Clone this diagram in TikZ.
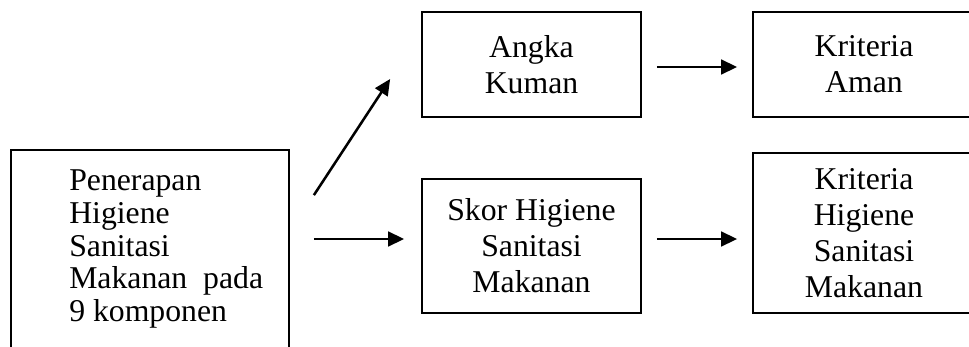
\documentclass[tikz,border=0pt]{standalone}
\usepackage{fontspec}
\setmainfont{Liberation Serif}
\usetikzlibrary{arrows.meta,calc}
\begin{document}
\begin{tikzpicture}[x=0.75pt,y=-0.75pt,
  box/.style={draw=black,line width=1.3pt,rectangle,inner sep=0pt,
    align=center,font=\fontsize{23.8pt}{27pt}\selectfont},
  lbl/.style={inner sep=0pt,align=left,font=\fontsize{23.8pt}{24.5pt}\selectfont},
  arr/.style={line width=1.9pt,-{Triangle[length=12pt,width=11pt]}}]
\useasboundingbox (0,0) rectangle (969,346);
\clip (0,0) rectangle (969,346);
\fill[white] (0,0) rectangle (969,346);
% boxes
\node[box,minimum width=208.5pt,minimum height=151.5pt] (L) at (150,251) {};
\node[lbl,anchor=west] (Lt) at (69,249) {Penerapan\\Higiene\\Sanitasi\\Makanan\ \ pada\\9 komponen};
\node[box,minimum width=164.25pt,minimum height=78.75pt] (A) at (531.5,64.5) {Angka\\Kuman};
\node[box,minimum width=164.25pt,minimum height=100.5pt] (S) at (531.5,246) {Skor Higiene\\Sanitasi\\Makanan};
\node[box,minimum width=166.5pt,minimum height=78.75pt] (KA) at (864,64.5) {Kriteria\\Aman};
\node[box,minimum width=166.5pt,minimum height=120pt] (KH) at (864,233) {Kriteria\\Higiene\\Sanitasi\\Makanan};
% connectors
\draw[arr] ($(L.north east)+(24,46)$) -- ($(A.west)+(-31,14.5)$);
\draw[arr] ($(L.east|-S.west)+(24,-7)$) -- ($(S.west)+(-17,-7)$);
\draw[arr] ($(A.east)+(15,2.5)$) -- ($(KA.west)+(-15,2.5)$);
\draw[arr] ($(S.east)+(15,-7)$) -- ($(KH.west|-S.east)+(-15,-7)$);
\end{tikzpicture}
\end{document}
